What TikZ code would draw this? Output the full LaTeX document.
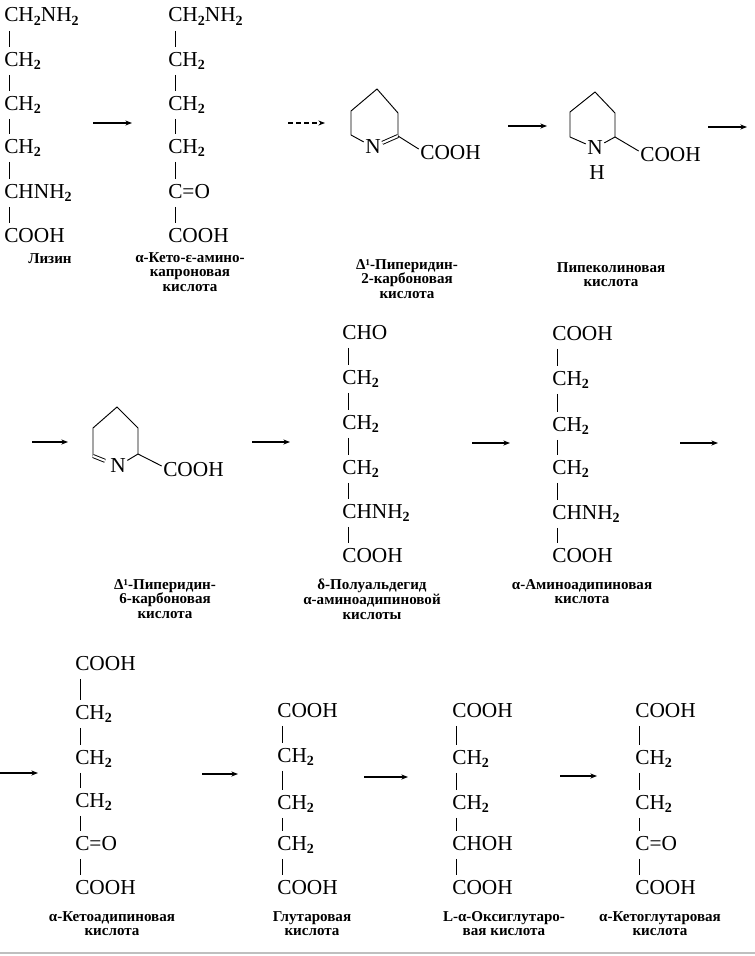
\documentclass[tikz,border=0pt]{standalone}
\usepackage{fontspec}
\setmainfont{Liberation Serif}
\usetikzlibrary{arrows.meta}
\newcommand\chs[1]{\raisebox{-0.35ex}{\fontsize{10.5}{10.5}\selectfont\bfseries #1}}
\newcommand\chemfont{\fontsize{16}{18}\selectfont}
\newcommand\lblfont{\fontsize{11.3}{11}\selectfont\bfseries}
\definecolor{rule}{gray}{0.75}
\tikzset{
  chem/.style={font=\chemfont, inner sep=0pt, text height=10.5pt, text depth=3pt, anchor=base west},
  atom/.style={font=\chemfont, inner sep=1pt},
  lbl/.style={font=\lblfont, align=center, inner sep=0pt, anchor=north},
  bond/.style={line width=0.7pt, shorten >=3.5pt, shorten <=3.5pt},
  ringb/.style={line width=0.7pt},
  rxn/.style={line width=0.8pt, -{Stealth[length=5pt,width=3.8pt]}},
}
\begin{document}
\begin{tikzpicture}[x=0.75pt,y=-0.75pt]
\useasboundingbox (0,0) rectangle (755,956);
\fill[white] (0,0) rectangle (755,956);
\draw[rule, line width=1pt] (0,953) -- (755,953);

% ---------- Row 1 ----------
% Lysine
\node[chem] (a1) at (4,22)  {CH\chs{2}NH\chs{2}};
\node[chem] (a2) at (4,66)  {CH\chs{2}};
\node[chem] (a3) at (4,110) {CH\chs{2}};
\node[chem] (a4) at (4,153) {CH\chs{2}};
\node[chem] (a5) at (4,198) {CHNH\chs{2}};
\node[chem] (a6) at (4,242) {COOH};
\foreach \i/\j in {a1/a2,a2/a3,a3/a4,a4/a5,a5/a6}
  \draw[bond] ([xshift=4pt]\i.south west) -- ([xshift=4pt]\j.north west);
\node[lbl] (la) at (50,253) {Лизин};

% alpha-keto-epsilon-aminocaproic acid
\node[chem] (b1) at (168,22)  {CH\chs{2}NH\chs{2}};
\node[chem] (b2) at (168,66)  {CH\chs{2}};
\node[chem] (b3) at (168,110) {CH\chs{2}};
\node[chem] (b4) at (168,153) {CH\chs{2}};
\node[chem] (b5) at (168,198) {C=O};
\node[chem] (b6) at (168,242) {COOH};
\foreach \i/\j in {b1/b2,b2/b3,b3/b4,b4/b5,b5/b6}
  \draw[bond] ([xshift=5.5pt]\i.south west) -- ([xshift=5.5pt]\j.north west);
\node[lbl] (lb) at (190,252) {α-Кето-ε-амино-\\капроновая\\кислота};

% Delta1-piperideine-2-carboxylic acid
\coordinate (p1t) at (377,89);
\coordinate (p1ul) at (351,111);
\coordinate (p1ll) at (351,135);
\coordinate (p1lr) at (398,136);
\coordinate (p1ur) at (398,113);
\node[atom] (pn1) at (373,147) {N};
\node[atom, anchor=west, inner sep=0pt] (pc1) at (420,153) {COOH};
\draw[ringb] (p1ll) -- (p1ul) -- (p1t) -- (p1ur) -- (p1lr);
\draw[ringb] (p1ll) -- (pn1);
\draw[ringb, double, double distance=1.6pt] (pn1) -- (p1lr);
\draw[ringb] (p1lr) -- ([xshift=-1pt,yshift=3pt]pc1.west);
\node[lbl] (lp1) at (407,259) {Δ¹-Пиперидин-\\2-карбоновая\\кислота};

% Pipecolic acid
\coordinate (p2t) at (595,92);
\coordinate (p2ul) at (570,112);
\coordinate (p2ll) at (570,137);
\coordinate (p2lr) at (615,137);
\coordinate (p2ur) at (615,113);
\node[atom] (pn2) at (595,148) {N};
\node[atom] (ph2) at (597,173) {H};
\node[atom, anchor=west, inner sep=0pt] (pc2) at (640,155) {COOH};
\draw[ringb] (p2ll) -- (p2ul) -- (p2t) -- (p2ur) -- (p2lr);
\draw[ringb] (p2ll) -- (pn2);
\draw[ringb] (pn2) -- (p2lr);
\draw[ringb] (p2lr) -- ([xshift=-1pt,yshift=3pt]pc2.west);
\node[lbl] (lp2) at (611,262) {Пипеколиновая\\кислота};

% Row 1 arrows
\coordinate (r1s) at (93,123);  \coordinate (r1e) at (132,123);
\coordinate (r2s) at (288,123); \coordinate (r2e) at (325,123);
\coordinate (r3s) at (508,126); \coordinate (r3e) at (547,126);
\coordinate (r4s) at (708,127); \coordinate (r4e) at (747,127);
\draw[rxn] (r1s) -- (r1e);
\draw[rxn, dash pattern=on 4pt off 2pt] (r2s) -- (r2e);
\draw[rxn] (r3s) -- (r3e);
\draw[rxn] (r4s) -- (r4e);

% ---------- Row 2 ----------
% Delta1-piperideine-6-carboxylic acid
\coordinate (p3t) at (117,407);
\coordinate (p3ul) at (93,428);
\coordinate (p3ll) at (93,456);
\coordinate (p3rl) at (138,454);
\coordinate (p3ru) at (138,428);
\node[atom] (pn3) at (118,466) {N};
\node[atom, anchor=west, inner sep=0pt] (pc3) at (163,470) {COOH};
\draw[ringb] (p3ll) -- (p3ul) -- (p3t) -- (p3ru) -- (p3rl);
\draw[ringb, double, double distance=1.6pt, shorten >=3pt] (p3ll) -- (pn3);
\draw[ringb] (pn3) -- (p3rl);
\draw[ringb] (p3rl) -- ([xshift=-1pt,yshift=3pt]pc3.west);
\node[lbl] (lp3) at (165,579) {Δ¹-Пиперидин-\\6-карбоновая\\кислота};

% delta-semialdehyde of alpha-aminoadipic acid
\node[chem] (c1) at (342,339) {CHO};
\node[chem] (c2) at (342,384) {CH\chs{2}};
\node[chem] (c3) at (342,429) {CH\chs{2}};
\node[chem] (c4) at (342,474) {CH\chs{2}};
\node[chem] (c5) at (342,518) {CHNH\chs{2}};
\node[chem] (c6) at (342,562) {COOH};
\foreach \i/\j in {c1/c2,c2/c3,c3/c4,c4/c5,c5/c6}
  \draw[bond] ([xshift=5pt]\i.south west) -- ([xshift=5pt]\j.north west);
\node[lbl] (lc) at (372,579) {δ-Полуальдегид\\α-аминоадипиновой\\кислоты};

% alpha-aminoadipic acid
\node[chem] (d1) at (552,340) {COOH};
\node[chem] (d2) at (552,385) {CH\chs{2}};
\node[chem] (d3) at (552,431) {CH\chs{2}};
\node[chem] (d4) at (552,474) {CH\chs{2}};
\node[chem] (d5) at (552,519) {CHNH\chs{2}};
\node[chem] (d6) at (552,562) {COOH};
\foreach \i/\j in {d1/d2,d2/d3,d3/d4,d4/d5,d5/d6}
  \draw[bond] ([xshift=4pt]\i.south west) -- ([xshift=4pt]\j.north west);
\node[lbl] (ld) at (582,579) {α-Аминоадипиновая\\кислота};

% Row 2 arrows
\coordinate (r5s) at (32,442);  \coordinate (r5e) at (68,442);
\coordinate (r6s) at (252,442); \coordinate (r6e) at (290,442);
\coordinate (r7s) at (472,443); \coordinate (r7e) at (510,443);
\coordinate (r8s) at (680,443); \coordinate (r8e) at (718,443);
\draw[rxn] (r5s) -- (r5e);
\draw[rxn] (r6s) -- (r6e);
\draw[rxn] (r7s) -- (r7e);
\draw[rxn] (r8s) -- (r8e);

% ---------- Row 3 ----------
% alpha-ketoadipic acid
\node[chem] (e1) at (75,670) {COOH};
\node[chem] (e2) at (75,719) {CH\chs{2}};
\node[chem] (e3) at (75,764) {CH\chs{2}};
\node[chem] (e4) at (75,807) {CH\chs{2}};
\node[chem] (e5) at (75,850) {C=O};
\node[chem] (e6) at (75,894) {COOH};
\foreach \i/\j in {e1/e2,e2/e3,e3/e4,e4/e5,e5/e6}
  \draw[bond] ([xshift=4pt]\i.south west) -- ([xshift=4pt]\j.north west);
\node[lbl] (le) at (112,911) {α-Кетоадипиновая\\кислота};

% glutaric acid
\node[chem] (f1) at (277,717) {COOH};
\node[chem] (f2) at (277,762) {CH\chs{2}};
\node[chem] (f3) at (277,809) {CH\chs{2}};
\node[chem] (f4) at (277,850) {CH\chs{2}};
\node[chem] (f5) at (277,894) {COOH};
\foreach \i/\j in {f1/f2,f2/f3,f3/f4,f4/f5}
  \draw[bond] ([xshift=4pt]\i.south west) -- ([xshift=4pt]\j.north west);
\node[lbl] (lf) at (312,911) {Глутаровая\\кислота};

% L-alpha-oxyglutaric acid
\node[chem] (g1) at (452,717) {COOH};
\node[chem] (g2) at (452,764) {CH\chs{2}};
\node[chem] (g3) at (452,809) {CH\chs{2}};
\node[chem] (g4) at (452,850) {CHOH};
\node[chem] (g5) at (452,894) {COOH};
\foreach \i/\j in {g1/g2,g2/g3,g3/g4,g4/g5}
  \draw[bond] ([xshift=3pt]\i.south west) -- ([xshift=3pt]\j.north west);
\node[lbl] (lg) at (504,911) {L-α-Оксиглутаро-\\вая кислота};

% alpha-ketoglutaric acid
\node[chem] (h1) at (635,717) {COOH};
\node[chem] (h2) at (635,764) {CH\chs{2}};
\node[chem] (h3) at (635,809) {CH\chs{2}};
\node[chem] (h4) at (635,850) {C=O};
\node[chem] (h5) at (635,894) {COOH};
\foreach \i/\j in {h1/h2,h2/h3,h3/h4,h4/h5}
  \draw[bond] ([xshift=3.5pt]\i.south west) -- ([xshift=3.5pt]\j.north west);
\node[lbl] (lh) at (660,911) {α-Кетоглутаровая\\кислота};

% Row 3 arrows
\coordinate (r9s) at (0,773);    \coordinate (r9e) at (38,773);
\coordinate (r10s) at (202,774); \coordinate (r10e) at (238,774);
\coordinate (r11s) at (364,777); \coordinate (r11e) at (408,777);
\coordinate (r12s) at (560,776); \coordinate (r12e) at (597,776);
\draw[rxn] (r9s) -- (r9e);
\draw[rxn] (r10s) -- (r10e);
\draw[rxn] (r11s) -- (r11e);
\draw[rxn] (r12s) -- (r12e);
\end{tikzpicture}
\end{document}
